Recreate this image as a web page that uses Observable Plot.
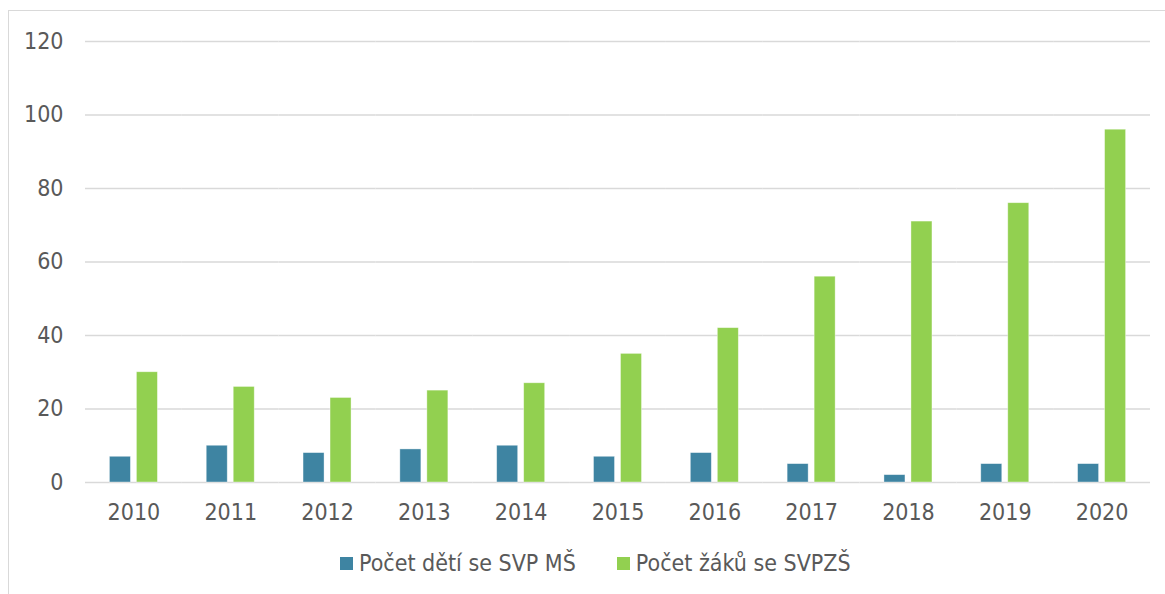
<!DOCTYPE html>
<html>
<head>
<meta charset="utf-8">
<script src="https://cdn.jsdelivr.net/npm/d3@7"></script>
<script src="https://cdn.jsdelivr.net/npm/@observablehq/plot@0.6"></script>
<style>
  html, body { margin: 0; padding: 0; background: #fff; overflow: hidden; }
  body { width: 1165px; height: 594px; position: relative;
         font-family: "Liberation Sans Narrow", "DejaVu Sans Condensed", "Open Sans", sans-serif; }
  #frame { position: absolute; left: 8px; top: 10px; width: 1300px; height: 800px;
           border: 1.5px solid #d9d9d9; box-sizing: border-box; pointer-events: none; }
  #chart { position: absolute; left: 0; top: 0; }
  #legend { position: absolute; left: 340px; top: 549px; display: flex; align-items: center;
            font-size: 23px; color: #595959; white-space: nowrap; line-height: 28px; }
  .item { display: flex; align-items: center; margin-right: 41px; }
  .sw { width: 13px; height: 13px; margin-right: 6px; }
</style>
</head>
<body>
<div id="frame"></div>
<div id="chart"></div>
<div id="legend"></div>
<script>
const years = ["2010","2011","2012","2013","2014","2015","2016","2017","2018","2019","2020"];
const seriesNames = ["Počet dětí se SVP MŠ", "Počet žáků se SVPZŠ"];
const seriesColors = ["#3e84a2", "#92d050"];
const childrenMS = [7, 10, 8, 9, 10, 7, 8, 5, 2, 5, 5];
const pupilsZS = [30, 26, 23, 25, 27, 35, 42, 56, 71, 76, 96];
const yTicks = [0, 20, 40, 60, 80, 100, 120];

const data = [];
years.forEach((yr, i) => {
  data.push({year: yr, series: seriesNames[0], value: childrenMS[i]});
  data.push({year: yr, series: seriesNames[1], value: pupilsZS[i]});
});

const chart = Plot.plot({
  width: 1165,
  height: 535,
  marginLeft: 85,
  marginRight: 15,
  marginTop: 41,
  marginBottom: 53,
  style: {fontFamily: '"Liberation Sans Narrow", "DejaVu Sans Condensed", "Open Sans", sans-serif', fontSize: "23px", color: "#595959", background: "transparent"},
  facet: {marginLeft: 0, marginRight: 0, marginTop: 0, marginBottom: 0},
  fx: {domain: years, paddingInner: 0, paddingOuter: 0, round: false, label: null, tickSize: 0, tickPadding: 21},
  x: {domain: seriesNames, paddingInner: 0.222, paddingOuter: 0.904, round: false, axis: null},
  y: {domain: [0, 120], ticks: yTicks, tickSize: 0, tickPadding: 22, label: null},
  color: {domain: seriesNames, range: seriesColors},
  marks: [
    Plot.ruleY(yTicks, {stroke: "#d9d9d9", strokeWidth: 1.5}),
    Plot.barY(data, {fx: "year", x: "series", y: "value", fill: "series", stroke: "#ffffff", strokeOpacity: 0.5, strokeWidth: 0.75})
  ]
});
document.getElementById("chart").appendChild(chart);

const legend = document.getElementById("legend");
seriesNames.forEach((name, i) => {
  const item = document.createElement("div");
  item.className = "item";
  const sw = document.createElement("span");
  sw.className = "sw";
  sw.style.background = seriesColors[i];
  const t = document.createElement("span");
  t.textContent = name;
  item.appendChild(sw);
  item.appendChild(t);
  legend.appendChild(item);
});
</script>
</body>
</html>
